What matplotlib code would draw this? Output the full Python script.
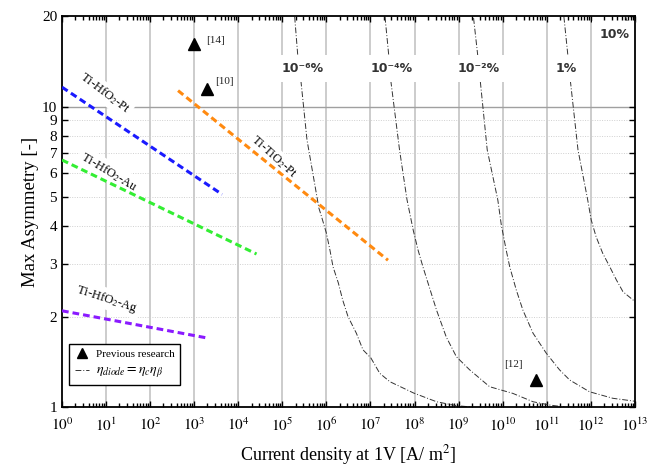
#!/usr/bin/env python3

"""Max asymmetry vs current density, with diode efficiency contours."""

import numpy as np
import matplotlib
matplotlib.use("Agg")
import matplotlib.pyplot as plt
from matplotlib.lines import Line2D
from matplotlib.ticker import FixedLocator, NullFormatter, LogLocator

# * Data

# Dashed material lines: end points (current density, asymmetry).
pt_x = [1.0, 4.3e3]
pt_y = [11.6, 5.1]
au_x = [1.0, 2.6e4]
au_y = [6.64, 3.23]
ag_x = [1.0, 1.85e3]
ag_y = [2.09, 1.70]
ti_x = [4.3e2, 2.5e7]
ti_y = [11.3, 3.08]

# Previous research points.
ref_x = [1.0e3, 2.0e3, 5.6e10]
ref_y = [16.1, 11.4, 1.23]
ref_lbl = ["[14]", "[10]", "[12]"]
ref_off = [(15, 3), (12, 6), (-16, 11)]

# Efficiency contours (log10 of current density, asymmetry).
eff6_lx = [5.28, 5.35, 5.42, 5.56, 5.83, 5.89, 6.00, 6.08, 6.15, 6.27, 6.37, 6.49,
           6.68, 6.83, 7.01, 7.21, 7.44, 7.98, 8.50, 8.95, 9.3]
eff6_y = [19.9, 14.8, 12.25, 7.74, 4.59, 4.30, 3.79, 3.33, 2.93, 2.59, 2.27, 2.0,
          1.76, 1.55, 1.456, 1.295, 1.214, 1.113, 1.041, 1.01, 1.0]
eff4_lx = [7.33, 7.415, 7.46, 7.66, 7.83, 7.97, 8.08, 8.19, 8.345, 8.50, 8.72, 8.95,
           9.25, 9.705, 10.23, 10.69, 11.07, 11.4]
eff4_y = [19.9, 14.8, 12.25, 7.17, 4.89, 3.88, 3.33, 2.93, 2.48, 2.10, 1.71, 1.47,
          1.33, 1.168, 1.11, 1.041, 1.015, 1.0]
eff2_lx = [9.34, 9.43, 9.49, 9.65, 9.89, 9.97, 10.08, 10.16, 10.31, 10.46, 10.69,
           10.99, 11.29, 11.52, 11.97, 12.50, 12.96, 13.0]
eff2_y = [19.7, 15.0, 12.25, 7.17, 4.89, 4.03, 3.33, 2.93, 2.45, 2.10, 1.76,
          1.51, 1.33, 1.23, 1.124, 1.069, 1.047, 1.045]
eff0_lx = [11.39, 11.48, 11.535, 11.71, 11.93, 12.01, 12.12, 12.27, 12.43, 12.58,
           12.73, 12.96, 13.0]
eff0_y = [19.9, 14.8, 12.25, 7.17, 4.89, 4.19, 3.69, 3.25, 2.93, 2.65,
          2.42, 2.27, 2.25]
eff1_lx = [12.79, 12.96, 13.0]
eff1_y = [19.9, 16.9, 16.3]

eff_labels = ["10⁻⁶%", "10⁻⁴%", "10⁻²%", "1%", "10%"]
eff_lbl_x = [2.9e5, 3.0e7, 2.9e9, 2.7e11, 3.4e12]
eff_lbl_y = [13.4, 13.4, 13.4, 13.4, 17.4]

mat_labels = ["Ti-HfO$_2$-Pt", "Ti-HfO$_2$-Au", "Ti-HfO$_2$-Ag", "Ti-TiO$_2$-Pt"]
mat_lbl_x = [9.3, 11.5, 10.5, 6.3e4]
mat_lbl_y = [11.07, 6.07, 2.29, 6.81]
mat_lbl_rot = [-37, -31, -18, -42]

yticks = [1, 2, 3, 4, 5, 6, 7, 8, 9, 10, 20]

# * Plot

plt.rcParams["font.family"] = ["Liberation Serif", "DejaVu Serif"]
plt.rcParams["mathtext.fontset"] = "stix"

fig = plt.figure(figsize=(6.48, 4.67), dpi=100)
ax = fig.add_axes([0.0957, 0.1285, 0.884, 0.837])
ax.set_xscale("log")
ax.set_yscale("log")
ax.set_xlim(1, 1e13)
ax.set_ylim(1, 20)

# Grid.
for e in range(1, 13):
    ax.axvline(10.0 ** e, color="#c8c8c8", lw=1.3, zorder=0)
ax.axhline(10, color="#a0a0a0", lw=1.0, zorder=0)
for v in range(2, 10):
    ax.axhline(v, color="#d0d0d0", lw=0.7, ls=(0, (1, 1.5)), zorder=0)

# Efficiency contours.
dd = (0, (6, 2, 1, 2))
for lx, yy in [(eff6_lx, eff6_y), (eff4_lx, eff4_y), (eff2_lx, eff2_y),
               (eff0_lx, eff0_y), (eff1_lx, eff1_y)]:
    ax.plot(10.0 ** np.array(lx), yy, color="#333333", lw=0.7, ls=dd, zorder=2)

# Labels sit under the spines (zorder 2.5) so the frame stays visible.
for t, x, y in zip(eff_labels, eff_lbl_x, eff_lbl_y):
    ax.text(x, y, t, family="DejaVu Sans", fontsize=9, fontweight="bold",
            color="#333333", ha="center", va="center", zorder=2.2,
            bbox=dict(facecolor="white", edgecolor="none", pad=5))

# Material lines.
dash = (0, (2.2, 1.3))
ax.plot(pt_x, pt_y, color="#1a1aff", lw=2.2, ls=dash, zorder=4)
ax.plot(au_x, au_y, color="#33ee33", lw=2.2, ls=dash, zorder=4)
ax.plot(ag_x, ag_y, color="#8a1aff", lw=2.2, ls=dash, zorder=4)
ax.plot(ti_x, ti_y, color="#ff8a10", lw=2.2, ls=dash, zorder=4)

box = dict(facecolor="white", edgecolor="none", pad=2)
for t, x, y, r in zip(mat_labels, mat_lbl_x, mat_lbl_y, mat_lbl_rot):
    ax.text(x, y, t, fontsize=9, rotation=r, rotation_mode="anchor",
            ha="center", va="center", color="black", bbox=box, zorder=2.2)

# Previous research.
ax.plot(ref_x, ref_y, "^", color="black", ms=8, zorder=5)
for x, y, t, o in zip(ref_x, ref_y, ref_lbl, ref_off):
    ax.annotate(t, (x, y), xytext=o, textcoords="offset points",
                fontsize=8, ha="center", va="center", color="#222222")

# Legend.
handles = [Line2D([], [], marker="^", color="black", ls="none", ms=7),
           Line2D([], [], color="#333333", lw=0.7, ls=dd)]
leg = ax.legend(handles, ["Previous research", "$\\eta_{diode} = \\eta_c\\eta_\\beta$"],
                loc="lower left", bbox_to_anchor=(0.0127, 0.056), borderaxespad=0,
                fontsize=8, fancybox=False, framealpha=1, handlelength=1.3,
                handletextpad=0.6, borderpad=0.5, labelspacing=0.4)
leg.get_texts()[1].set_fontsize(10)
leg.get_frame().set_edgecolor("black")
leg.get_frame().set_linewidth(1.0)
leg.set_zorder(6)

# Axes and ticks.
ax.set_xticks([10.0 ** e for e in range(14)])
ax.set_xticklabels(["$10^{%d}$" % e for e in range(14)], fontsize=11)
ax.xaxis.set_minor_locator(LogLocator(base=10, subs=np.arange(2, 10), numticks=200))
ax.xaxis.set_minor_formatter(NullFormatter())
ax.set_yticks(yticks)
ax.set_yticklabels([str(v) for v in yticks], fontsize=11)
ax.yaxis.set_minor_locator(FixedLocator([]))

ax.tick_params(which="both", direction="in", top=True, right=True, width=1.0)
ax.tick_params(which="major", length=4)
ax.tick_params(which="minor", length=3)
ax.tick_params(axis="x", which="major", pad=7)
for s in ax.spines.values():
    s.set_linewidth(1.3)

ax.set_xlabel("Current density at 1V [A/ m$^2$]", fontsize=13, labelpad=6)
ax.set_ylabel("Max Asymmetry [-]", fontsize=13.5, labelpad=2)

plt.savefig("out.png", dpi=100)
